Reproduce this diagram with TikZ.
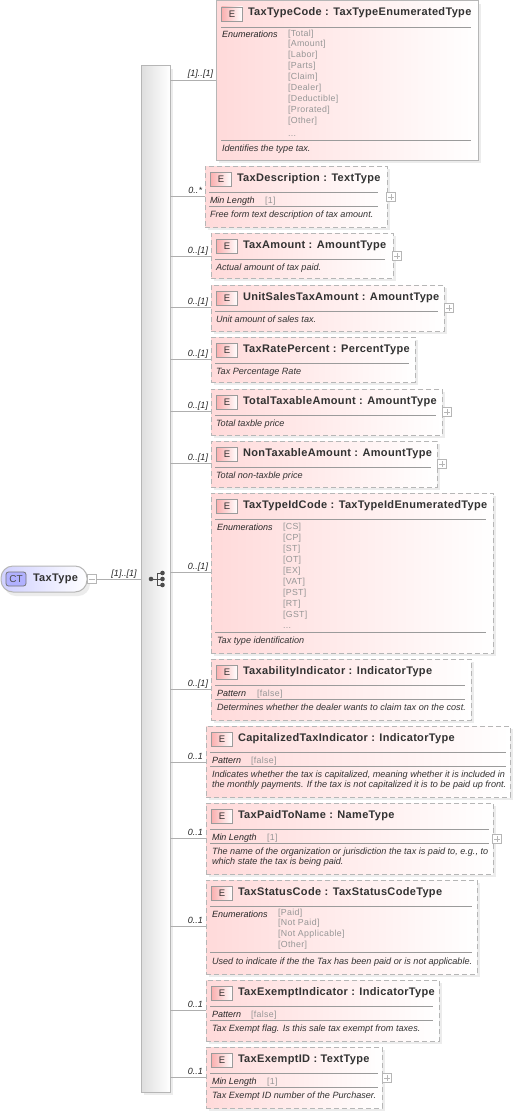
\documentclass[tikz,border=0pt]{standalone}
\usepackage{fontspec}
\setmainfont{Liberation Sans}
\usetikzlibrary{calc}
\definecolor{pinkL}{RGB}{255,218,218}
\definecolor{badgeL}{RGB}{250,175,175}
\definecolor{edgeG}{RGB}{182,182,182}
\definecolor{shadowG}{RGB}{236,236,236}
\definecolor{sepG}{RGB}{155,155,155}
\definecolor{lineG}{RGB}{175,175,175}
\definecolor{enumG}{RGB}{150,150,150}
\definecolor{txtD}{RGB}{50,50,50}
\definecolor{ctL}{RGB}{208,208,255}
\tikzset{x=1pt,y=-1pt,
  every node/.style={inner sep=0pt,outer sep=0pt},
  boxshape/.style={left color=pinkL,right color=white,draw=edgeG,line width=1pt,rectangle,anchor=north west},
  dashedge/.style={dash pattern=on 5pt off 3pt},
  boxshadow/.style={fill=shadowG,draw=none},
  badge/.style={draw=sepG,line width=.8pt,left color=badgeL,right color=white,minimum width=21pt,minimum height=14pt,anchor=north west,font=\fontsize{9.5}{10}\selectfont,text=txtD},
  titletext/.style={anchor=base west,font=\bfseries\fontsize{11}{12}\selectfont\addfontfeature{LetterSpace=3},text=txtD},
  labeltext/.style={anchor=base west,font=\itshape\fontsize{9}{10}\selectfont,text=black!85},
  desctext/.style={anchor=base west,font=\itshape\fontsize{9.1}{10}\selectfont,text=txtD},
  enumtext/.style={anchor=base west,font=\fontsize{8.8}{10}\selectfont\addfontfeature{LetterSpace=4},text=enumG},
  multtext/.style={anchor=base,font=\itshape\fontsize{9}{10}\selectfont,text=black!85},
  sepline/.style={draw=sepG,line width=.8pt},
  conn/.style={draw=lineG,line width=.8pt},
  plusbox/.style={draw=edgeG,line width=.6pt,fill=white,minimum width=9pt,minimum height=9pt},
}
% id, x0, y0, x1, y1, line style, title
\newcommand{\ebox}[7]{%
  \fill[boxshadow] (#2+3,#3+3) rectangle (#4+3,#5+3);
  \node[boxshape,#6,minimum width=#4pt-#2pt,minimum height=#5pt-#3pt] (#1) at (#2,#3) {};
  \node[badge] (#1b) at (#2+5.5,#3+6) {E};
  \node[titletext] (#1t) at (#2+32,#3+15) {#7};
}
\newcommand{\sep}[4]{\draw[sepline] (#1,#3) -- (#2,#3);}
\newcommand{\plus}[3]{%
  \node[plusbox] (#1) at (#2,#3) {};
  \draw[edgeG,line width=.6pt] ($(#1.center)+(-3,0)$) -- ($(#1.center)+(3,0)$) ($(#1.center)+(0,-3)$) -- ($(#1.center)+(0,3)$);
}
% id, y, box id, mult, text x
\newcommand{\link}[4]{%
  \coordinate (c#1) at (170,#2);
  \draw[conn] (c#1) -- (#1.west |- c#1);
  \node[multtext,anchor=base east] (m#1) at ($(#1.west |- c#1)+(-3,-3)$) {#3};
}
\begin{document}
\begin{tikzpicture}
\useasboundingbox (0,0) rectangle (514,1113);
\fill[white] (0,0) rectangle (514,1113);
% root
\fill[shadowG,rounded corners=12pt] (4,569) rectangle (90,596);
\node[draw=edgeG,line width=1pt,rounded corners=12pt,left color=ctL,right color=white,minimum width=86pt,minimum height=26pt,anchor=north west] (root) at (1,566) {};
\node[draw=black!55,line width=.8pt,fill=ctL!85!blue,rounded corners=2.5pt,minimum width=20pt,minimum height=14pt,anchor=north west,font=\fontsize{10}{10}\selectfont,text=black!70] (rootb) at (6,572) {CT};
\node[titletext] (roott) at (33,581) {TaxType};
\node[plusbox] (rootm) at (91.5,579) {};
\draw[edgeG,line width=.6pt] ($(rootm.center)+(-3,0)$) -- ($(rootm.center)+(3,0)$);
% bar
\fill[shadowG] (144,69) rectangle (173,1095);
\node[draw=edgeG,line width=1pt,left color=black!13,right color=white,minimum width=29pt,minimum height=1026pt,anchor=north west] (bar) at (141,66) {};
\draw[conn] (rootm) -- (bar.west |- rootm);
\node[multtext,anchor=base] (mroot) at (124,576) {[1]..[1]};
% compositor icon
\coordinate (ic0) at (151,579);
\coordinate (ic1) at (157,579);
\draw[black!70,line width=1pt] (ic0) -- (ic1) (162.5,573) -- (157,573) -- (157,585) -- (162.5,585) (ic1) -- (162.5,579);
\foreach \p/\q in {151/579,162.5/573,162.5/579,162.5/585}{\fill[black!70] (\p,\q) circle (2.3pt);}
% boxes
\ebox{a}{216}{1}{478}{160}{solid}{TaxTypeCode : TaxTypeEnumeratedType}
\sep{221}{471}{27}{}
\node[labeltext] at (222,38) {Enumerations};
\foreach \t/\y in {Total/37,Amount/47,Labor/58,Parts/69,Claim/80,Dealer/91,Deductible/102,Prorated/113,Other/124}{\node[enumtext] at (288,\y) {[\t]};}
\node[enumtext] at (288,136) {...};
\sep{221}{471}{140}{}
\node[desctext] at (222,151) {Identifies the type tax.};
\link{a}{80}{[1]..[1]}{}

\ebox{b}{205}{166}{387}{227}{dashedge}{TaxDescription : TextType}
\sep{209}{378}{192}{}
\node[labeltext] at (210,203) {Min Length};
\node[enumtext] at (265,203) {[1]};
\sep{209}{378}{206}{}
\node[desctext] at (210,217) {Free form text description of tax amount.};
\plus{bp}{391}{197}
\link{b}{196}{0..*}{}

\ebox{c}{211}{233}{393}{278}{dashedge}{TaxAmount : AmountType}
\sep{215}{385}{259}{}
\node[desctext] at (216,270) {Actual amount of tax paid.};
\plus{cp}{397}{256}
\link{c}{256}{0..[1]}{}

\ebox{d}{211}{285}{444}{331}{dashedge}{UnitSalesTaxAmount : AmountType}
\sep{215}{438}{311}{}
\node[desctext] at (216,322) {Unit amount of sales tax.};
\plus{dp}{449}{308}
\link{d}{307}{0..[1]}{}

\ebox{e}{211}{337}{415}{382}{dashedge}{TaxRatePercent : PercentType}
\sep{215}{409}{363}{}
\node[desctext] at (216,374) {Tax Percentage Rate};
\link{e}{359}{0..[1]}{}

\ebox{f}{211}{389}{442}{435}{dashedge}{TotalTaxableAmount : AmountType}
\sep{215}{436}{415}{}
\node[desctext] at (216,426) {Total taxble price};
\plus{fp}{447}{412}
\link{f}{411}{0..[1]}{}

\ebox{g}{211}{441}{437}{487}{dashedge}{NonTaxableAmount : AmountType}
\sep{215}{431}{467}{}
\node[desctext] at (216,478) {Total non-taxble price};
\plus{gp}{442}{464}
\link{g}{463}{0..[1]}{}

\ebox{h}{211}{493}{493}{653}{dashedge}{TaxTypeIdCode : TaxTypeIdEnumeratedType}
\sep{215}{486}{519}{}
\node[labeltext] at (217,530) {Enumerations};
\foreach \t/\y in {CS/529,CP/540,ST/551,OT/562,EX/573,VAT/584,PST/595,RT/606,GST/617}{\node[enumtext] at (283,\y) {[\t]};}
\node[enumtext] at (283,628) {...};
\sep{215}{486}{632}{}
\node[desctext] at (217,643) {Tax type identification};
\link{h}{572}{0..[1]}{}

\ebox{i}{211}{659}{471}{720}{dashedge}{TaxabilityIndicator : IndicatorType}
\sep{215}{465}{685}{}
\node[labeltext] at (217,696) {Pattern};
\node[enumtext] at (257,696) {[false]};
\sep{215}{465}{699}{}
\node[desctext] at (217,710) {Determines whether the dealer wants to claim tax on the cost.};
\link{i}{689}{0..[1]}{}

\ebox{j}{206}{726}{510}{797}{dashedge}{CapitalizedTaxIndicator : IndicatorType}
\sep{210}{506}{752}{}
\node[labeltext] at (212,763) {Pattern};
\node[enumtext] at (251,763) {[false]};
\sep{210}{506}{766}{}
\node[desctext] at (212,777) {Indicates whether the tax is capitalized, meaning whether it is included in};
\node[desctext] at (212,787) {the monthly payments. If the tax is not capitalized it is to be paid up front.};
\link{j}{762}{0..1}{}

\ebox{k}{206}{803}{493}{874}{dashedge}{TaxPaidToName : NameType}
\sep{210}{489}{829}{}
\node[labeltext] at (212,840) {Min Length};
\node[enumtext] at (267,840) {[1]};
\sep{210}{489}{843}{}
\node[desctext] at (212,854) {The name of the organization or jurisdiction the tax is paid to, e.g., to};
\node[desctext] at (212,864) {which state the tax is being paid.};
\plus{kp}{497}{839}
\link{k}{838}{0..1}{}

\ebox{l}{206}{880}{477}{974}{dashedge}{TaxStatusCode : TaxStatusCodeType}
\sep{210}{472}{906}{}
\node[labeltext] at (212,917) {Enumerations};
\foreach \t/\y in {Paid/915,Not Paid/925,Not Applicable/936,Other/947}{\node[enumtext] at (278,\y) {[\t]};}
\sep{210}{472}{952}{}
\node[desctext] at (212,964) {Used to indicate if the the Tax has been paid or is not applicable.};
\link{l}{926}{0..1}{}

\ebox{m}{206}{980}{439}{1041}{dashedge}{TaxExemptIndicator : IndicatorType}
\sep{210}{433}{1006}{}
\node[labeltext] at (212,1017) {Pattern};
\node[enumtext] at (251,1017) {[false]};
\sep{210}{433}{1020}{}
\node[desctext] at (212,1031) {Tax Exempt flag. Is this sale tax exempt from taxes.};
\link{m}{1010}{0..1}{}

\ebox{n}{206}{1047}{382}{1108}{dashedge}{TaxExemptID : TextType}
\sep{210}{378}{1073}{}
\node[labeltext] at (212,1084) {Min Length};
\node[enumtext] at (267,1084) {[1]};
\sep{210}{378}{1087}{}
\node[desctext] at (212,1098) {Tax Exempt ID number of the Purchaser.};
\plus{np}{387}{1078}
\link{n}{1077}{0..1}{}
\end{tikzpicture}
\end{document}
